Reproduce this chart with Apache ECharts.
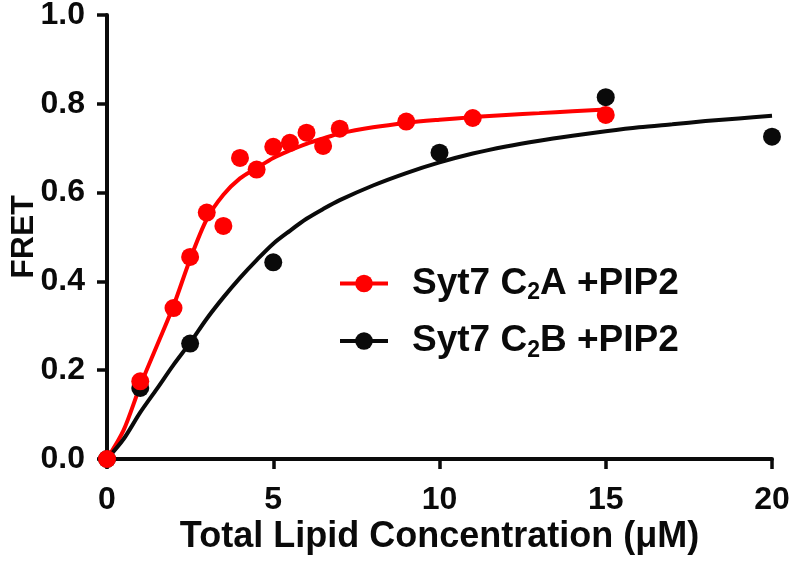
<!DOCTYPE html>
<html>
<head>
<meta charset="utf-8">
<script src="https://cdn.jsdelivr.net/npm/echarts@6/dist/echarts.min.js"></script>
<style>html,body{margin:0;padding:0;background:#fff}#c{width:793px;height:566px}</style>
</head>
<body>
<div id="c"></div>
<script>
// Measured data points
const c2aX = [0, 1, 2, 2.5, 3, 3.5, 4, 4.5, 5, 5.5, 6, 6.5, 7, 9, 11, 15];
const c2aY = [0, 0.175, 0.34, 0.455, 0.555, 0.525, 0.678, 0.652, 0.703, 0.712, 0.735, 0.705, 0.744, 0.76, 0.768, 0.775];
const c2bX = [0, 1, 2.5, 5, 10, 15, 20];
const c2bY = [0, 0.16, 0.26, 0.443, 0.69, 0.815, 0.726];
// Fitted curves
const fitAX = [0, 0.5, 1, 1.5, 2, 2.5, 3, 3.5, 4, 4.5, 5, 5.5, 6, 6.5, 7, 8, 9, 10, 11, 12, 13, 14, 15];
const fitAY = [0, 0.065, 0.165, 0.255, 0.345, 0.45, 0.54, 0.595, 0.632, 0.655, 0.678, 0.695, 0.71, 0.722, 0.733, 0.747, 0.757, 0.764, 0.77, 0.775, 0.779, 0.783, 0.787];
const fitBX = [0, 0.5, 1, 1.5, 2, 2.5, 3, 3.5, 4, 4.5, 5, 5.5, 6, 6.5, 7, 8, 9, 10, 11, 12, 13, 14, 15, 16, 17, 18, 19, 20];
const fitBY = [0, 0.045, 0.105, 0.158, 0.212, 0.262, 0.316, 0.364, 0.408, 0.448, 0.485, 0.514, 0.541, 0.563, 0.583, 0.616, 0.644, 0.668, 0.688, 0.704, 0.717, 0.728, 0.738, 0.747, 0.754, 0.761, 0.767, 0.773];
const xTicks = [0, 5, 10, 15, 20];
const yTicks = [0, 0.2, 0.4, 0.6, 0.8, 1.0];
const nameA = 'Syt7 C2A +PIP2';
const nameB = 'Syt7 C2B +PIP2';

const zip = (xs, ys) => xs.map((x, i) => [x, ys[i]]);
const FONT = 'Liberation Sans';
const RED = '#ff0000', BLK = '#0a0a0a';

const chart = echarts.init(document.getElementById('c'), null, {renderer: 'canvas'});
const axisCommon = {
  axisLine: {show: true, lineStyle: {color: BLK, width: 4}},
  axisTick: {show: true, length: 10, lineStyle: {color: BLK, width: 3.5}},
  splitLine: {show: false},
  axisLabel: {color: BLK, fontSize: 32, fontWeight: 'bold', fontFamily: FONT}
};
chart.setOption({
  animation: false,
  backgroundColor: '#fff',
  grid: {left: 107, right: 21, top: 15, bottom: 107, containLabel: false, outerBoundsMode: 'none'},
  xAxis: Object.assign({}, axisCommon, {
    type: 'value', min: xTicks[0], max: xTicks[xTicks.length - 1], interval: 5,
    axisLabel: Object.assign({}, axisCommon.axisLabel, {margin: 25}),
    name: 'Total Lipid Concentration (μM)', nameLocation: 'middle', nameGap: 60, nameMoveOverlap: false,
    nameTextStyle: {color: BLK, fontWeight: 'bold', fontFamily: FONT, fontSize: 36}
  }),
  yAxis: Object.assign({}, axisCommon, {
    type: 'value', min: yTicks[0], max: yTicks[yTicks.length - 1], interval: 0.2,
    axisLabel: Object.assign({}, axisCommon.axisLabel, {margin: 22, formatter: v => v.toFixed(1)}),
    name: 'FRET', nameLocation: 'middle', nameGap: 67, nameRotate: 90, nameMoveOverlap: false,
    nameTextStyle: {color: BLK, fontWeight: 'bold', fontFamily: FONT, fontSize: 32}
  }),
  legend: {
    data: [nameA, nameB], orient: 'vertical', left: 333, top: 260,
    itemWidth: 48, itemHeight: 22, itemGap: 18,
    lineStyle: {width: 4},
    formatter: n => n === nameA ? '{a|Syt7 C}{s|2}{a|A +PIP2}' : '{a|Syt7 C}{s|2}{a|B +PIP2}',
    textStyle: {
      color: BLK, fontFamily: FONT, fontWeight: 'bold', fontSize: 37, padding: [0, 0, 0, 19],
      rich: {
        a: {fontSize: 37, fontWeight: 'bold', fontFamily: FONT, color: BLK, lineHeight: 42},
        s: {fontSize: 23, fontWeight: 'bold', fontFamily: FONT, color: BLK, lineHeight: 22, verticalAlign: 'bottom'}
      }
    }
  },
  series: [
    {name: nameA, type: 'line', data: zip(fitAX, fitAY), smooth: 0.3, showSymbol: false, symbol: 'circle', symbolSize: 18,
     itemStyle: {color: RED}, lineStyle: {color: RED, width: 4}, z: 1},
    {name: nameB, type: 'line', data: zip(fitBX, fitBY), smooth: 0.3, showSymbol: false, symbol: 'circle', symbolSize: 18,
     itemStyle: {color: BLK}, lineStyle: {color: BLK, width: 4}, z: 2},
    {name: 'ptsB', type: 'scatter', data: zip(c2bX, c2bY), symbol: 'circle', symbolSize: 18, itemStyle: {color: BLK, opacity: 1}, z: 3},
    {name: 'ptsA', type: 'scatter', data: zip(c2aX, c2aY), symbol: 'circle', symbolSize: 18, itemStyle: {color: RED, opacity: 1}, z: 4}
  ]
});
</script>
</body>
</html>
